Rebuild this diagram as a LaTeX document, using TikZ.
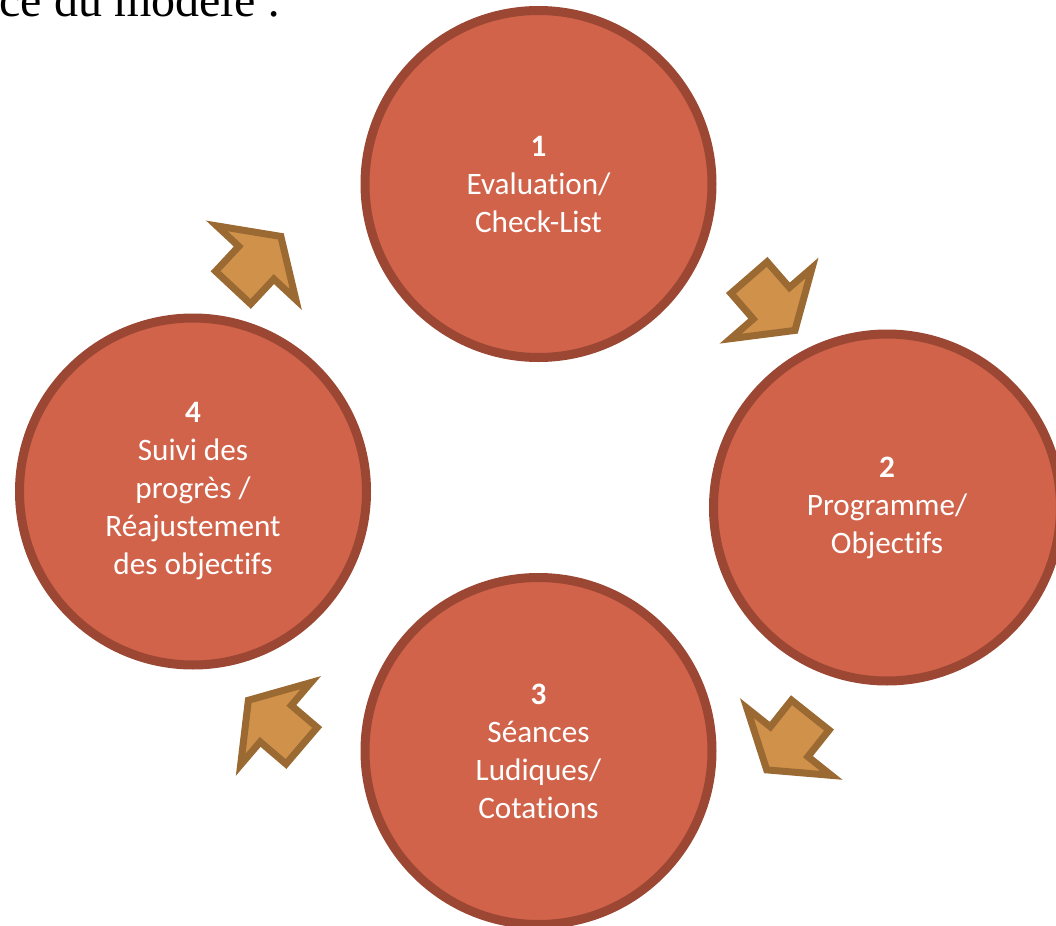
\documentclass[tikz,border=0pt]{standalone}
\usepackage{fontspec}
\setmainfont{Carlito}[Ligatures=NoCommon]
\newfontfamily\headfont{Liberation Serif}
\definecolor{stagefill}{RGB}{209,99,74}
\definecolor{stageline}{RGB}{155,71,52}
\definecolor{arrowfill}{RGB}{208,145,75}
\definecolor{arrowline}{RGB}{155,106,51}
\pgfmathsetmacro{\stagesize}{173.5}
\pgfmathsetmacro{\stageborder}{4.5}
\pgfmathsetmacro{\arrowborder}{3.5}
\tikzset{
  stage/.style={circle, fill=stagefill, draw=stageline,
    line width=\stageborder pt, minimum size=\stagesize pt, inner sep=0pt,
    text=white, align=center, font=\fontsize{15.6}{19}\selectfont},
  cyclearrow/.pic={
    \draw[fill=arrowfill, draw=arrowline, line width=\arrowborder pt, line join=miter]
      (-35,24) -- (-1,24) -- (-1,54) -- (35,0) -- (-1,-54) -- (-1,-24) -- (-35,-24) -- cycle;
  },
}

\begin{document}
\begin{tikzpicture}[x=0.5pt, y=0.5pt]
    \useasboundingbox (0,0) rectangle (1056,-926);
    % heading left over from the page above
    \node[anchor=base west, inner sep=0pt, font=\headfont\fontsize{24}{28}\selectfont]
        (head_text) at (-1,-17) {ce du mod\`ele :};
    % the four steps of the cycle
    \node[stage] (step_eval) at (538.5,-184) {\textbf{1}\\Evaluation/\\Check-List};
    \node[stage] (step_prog) at (887,-507.5) {\textbf{2}\\Programme/\\Objectifs};
    \node[stage] (step_play) at (538.5,-751) {\textbf{3}\\S\'eances\\Ludiques/\\Cotations};
    \node[stage] (step_follow) at (193,-491.5) {\textbf{4}\\Suivi des\\progr\`es /\\R\'eajustement\\des objectifs};
    % block arrows going round clockwise
    \pic[rotate=-49] at (772,-304) {cyclearrow};
    \pic[rotate=-128.5] at (788.5,-742.5) {cyclearrow};
    \pic[rotate=139.5] at (275,-723) {cyclearrow};
    \pic[rotate=47] at (257,-262) {cyclearrow};
\end{tikzpicture}
\end{document}
